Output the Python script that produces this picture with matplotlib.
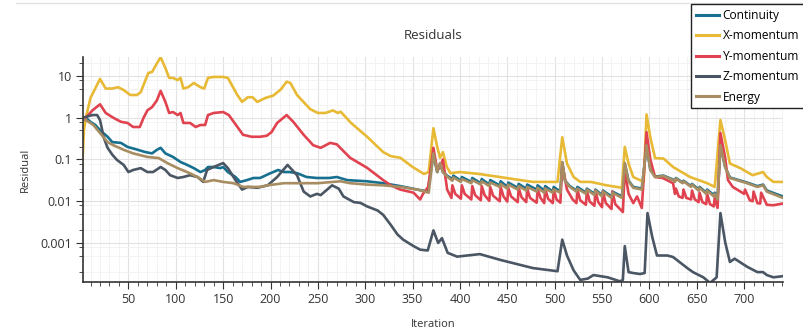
import matplotlib
matplotlib.use('Agg')
import matplotlib.pyplot as plt
from matplotlib.ticker import LogLocator, MultipleLocator, NullFormatter, FixedFormatter, FixedLocator
from matplotlib.lines import Line2D

plt.rcParams['font.family'] = ['Open Sans', 'DejaVu Sans']

# (iteration, residual)
continuity = [(1, 1.0), (5, 1.0), (10, 0.79), (15, 0.67), (20, 0.5), (28, 0.35), (33, 0.26),
              (42, 0.25), (49, 0.2), (60, 0.17), (68, 0.15), (75, 0.14), (80, 0.17), (84, 0.19),
              (89, 0.14), (97, 0.115), (105, 0.087), (112, 0.074), (119, 0.062), (126, 0.05),
              (131, 0.056), (134, 0.066), (140, 0.066), (147, 0.062), (150, 0.066), (155, 0.05),
              (163, 0.038), (168, 0.029), (175, 0.032), (182, 0.036), (189, 0.036), (200, 0.047),
              (208, 0.056), (214, 0.05), (220, 0.05), (228, 0.047), (238, 0.038), (249, 0.036),
              (262, 0.036), (270, 0.038), (281, 0.032), (302, 0.03), (319, 0.027), (337, 0.023),
              (355, 0.019), (366, 0.017), (372, 0.13), (376, 0.05), (379, 0.08), (382, 0.05),
              (387, 0.04), (392, 0.034), (393, 0.041), (401, 0.031), (402, 0.038), (412, 0.029),
              (413, 0.036), (422, 0.027), (423, 0.034), (431, 0.025), (432, 0.032), (442, 0.024),
              (443, 0.03), (450, 0.022), (451, 0.028), (461, 0.021), (462, 0.026), (470, 0.02),
              (471, 0.025), (481, 0.019), (482, 0.024), (489, 0.018), (490, 0.023), (498, 0.017),
              (499, 0.022), (506, 0.017), (508, 0.085), (511, 0.031), (516, 0.023), (523, 0.018),
              (524, 0.022), (533, 0.016), (534, 0.02), (542, 0.015), (543, 0.019), (550, 0.014),
              (551, 0.018), (560, 0.013), (561, 0.017), (571, 0.013), (574, 0.08), (578, 0.031),
              (583, 0.022), (592, 0.02), (597, 0.21), (601, 0.057), (606, 0.039), (615, 0.041),
              (625, 0.033), (627, 0.03), (628, 0.036), (635, 0.028), (636, 0.031), (644, 0.023),
              (645, 0.026), (652, 0.019), (653, 0.022), (660, 0.016), (661, 0.019), (668, 0.014),
              (669, 0.016), (672, 0.012), (675, 0.21), (680, 0.066), (685, 0.037), (703, 0.028),
              (714, 0.023), (720, 0.025), (724, 0.018), (741, 0.013)]

x_momentum = [(1, 0.05), (3, 0.5), (5, 1.0), (10, 3.0), (20, 8.5), (26, 5.0), (33, 5.0),
              (39, 5.4), (45, 4.6), (52, 3.5), (59, 3.5), (63, 4.1), (68, 8.0), (71, 11.8),
              (75, 12.5), (80, 20.0), (84, 28.0), (89, 15.5), (93, 9.0), (97, 9.0), (102, 8.0),
              (105, 9.0), (108, 5.0), (113, 5.4), (119, 6.8), (126, 5.4), (130, 5.0), (134, 9.0),
              (140, 9.5), (150, 9.5), (155, 9.0), (165, 3.5), (170, 2.4), (176, 3.1), (181, 3.1),
              (186, 2.4), (195, 3.0), (203, 3.4), (211, 4.8), (217, 7.3), (221, 6.8), (228, 3.5),
              (242, 1.6), (250, 1.3), (258, 1.3), (266, 1.5), (271, 1.3), (274, 1.4), (285, 0.75),
              (302, 0.35), (319, 0.15), (327, 0.12), (337, 0.11), (350, 0.066), (362, 0.045),
              (367, 0.05), (372, 0.56), (376, 0.2), (379, 0.11), (382, 0.15), (386, 0.067),
              (390, 0.047), (400, 0.05), (420, 0.045), (442, 0.038), (460, 0.033), (477, 0.029),
              (503, 0.029), (508, 0.34), (513, 0.08), (520, 0.038), (527, 0.029), (538, 0.029),
              (555, 0.024), (571, 0.021), (574, 0.2), (578, 0.08), (583, 0.038), (590, 0.032),
              (594, 0.029), (597, 1.2), (601, 0.34), (606, 0.108), (615, 0.105), (625, 0.066),
              (643, 0.038), (661, 0.027), (669, 0.022), (675, 0.88), (680, 0.29), (685, 0.08),
              (696, 0.062), (709, 0.042), (720, 0.05), (724, 0.038), (731, 0.029), (741, 0.029)]

y_momentum = [(1, 0.95), (5, 1.0), (12, 1.5), (20, 2.1), (26, 1.3), (34, 1.0), (42, 0.8),
              (49, 0.75), (55, 0.6), (62, 0.6), (66, 1.0), (70, 1.5), (75, 1.8), (80, 2.6),
              (84, 4.4), (89, 2.4), (93, 1.3), (97, 1.37), (102, 1.16), (105, 1.3), (108, 0.75),
              (115, 0.75), (121, 0.6), (126, 0.67), (131, 0.67), (134, 1.16), (140, 1.3),
              (150, 1.37), (156, 1.16), (165, 0.6), (171, 0.39), (180, 0.35), (189, 0.35),
              (196, 0.37), (201, 0.45), (207, 0.75), (217, 1.16), (224, 0.8), (235, 0.39),
              (245, 0.22), (253, 0.19), (263, 0.25), (270, 0.23), (284, 0.11), (302, 0.063),
              (319, 0.032), (327, 0.024), (337, 0.019), (351, 0.016), (358, 0.011), (361, 0.015),
              (366.5, 0.022), (372, 0.19), (376, 0.056), (379, 0.065), (382, 0.1), (386.5, 0.019),
              (391, 0.012), (392, 0.024), (395, 0.015), (401, 0.0115), (402, 0.024), (405, 0.015),
              (412, 0.011), (413, 0.023), (416, 0.014), (422, 0.0105), (423, 0.023), (426, 0.014),
              (431, 0.0102), (432, 0.022), (435, 0.0135), (442, 0.01), (443, 0.022), (446, 0.013),
              (450, 0.0098), (451, 0.021), (454, 0.013), (461, 0.0095), (462, 0.021), (465, 0.0125),
              (470, 0.0095), (471, 0.02), (474, 0.012), (481, 0.0092), (482, 0.02), (485, 0.012),
              (489, 0.009), (490, 0.02), (493, 0.0115), (498, 0.009), (499, 0.019), (502, 0.011),
              (506, 0.0092), (508, 0.08), (513, 0.019), (519, 0.011), (523, 0.009), (524, 0.019),
              (527, 0.0105), (533, 0.0082), (534, 0.018), (537, 0.0098), (542, 0.0078),
              (543, 0.018), (546, 0.0095), (550, 0.0072), (551, 0.017), (554, 0.009),
              (560, 0.0065), (561, 0.017), (564, 0.0085), (572, 0.0055), (574, 0.056),
              (578, 0.015), (583, 0.009), (587, 0.013), (592, 0.0069), (597, 0.45), (601, 0.1),
              (606, 0.038), (614, 0.036), (625, 0.027), (627, 0.015), (628, 0.02), (631, 0.013),
              (635, 0.012), (636, 0.019), (639, 0.012), (644, 0.011), (645, 0.018), (648, 0.011),
              (652, 0.0095), (653, 0.016), (656, 0.0095), (660, 0.0085), (661, 0.015),
              (664, 0.0085), (668, 0.0075), (669, 0.012), (672, 0.0069), (675, 0.43), (680, 0.11),
              (683, 0.032), (688, 0.022), (696, 0.017), (700, 0.015), (701, 0.019), (706, 0.0105),
              (709, 0.01), (710, 0.017), (714, 0.009), (717, 0.0088), (718, 0.016), (724, 0.0082),
              (731, 0.008), (741, 0.0088)]

z_momentum = [(1, 0.95), (2, 1.0), (12, 1.16), (17, 1.16), (20, 0.88), (24, 0.33), (28, 0.19),
              (33, 0.13), (38, 0.097), (45, 0.074), (50, 0.05), (55, 0.056), (63, 0.062),
              (70, 0.05), (76, 0.05), (84, 0.066), (89, 0.056), (94, 0.042), (102, 0.036),
              (108, 0.038), (115, 0.042), (123, 0.038), (129, 0.029), (133, 0.056), (140, 0.066),
              (150, 0.082), (155, 0.062), (163, 0.032), (170, 0.019), (176, 0.022), (186, 0.021),
              (197, 0.024), (207, 0.038), (218, 0.074), (228, 0.042), (235, 0.017), (242, 0.013),
              (249, 0.015), (253, 0.014), (265, 0.024), (272, 0.02), (277, 0.013), (288, 0.0095),
              (295, 0.0091), (302, 0.0075), (313, 0.006), (319, 0.0047), (327, 0.0027),
              (334, 0.0016), (340, 0.0012), (351, 0.00084), (358, 0.00069), (366, 0.00066),
              (372, 0.002), (377, 0.001), (381, 0.0013), (387, 0.00058), (397, 0.00047),
              (421, 0.00054), (443, 0.00039), (477, 0.00025), (503, 0.00021), (508, 0.0012),
              (513, 0.0005), (520, 0.00022), (527, 0.00013), (535, 0.00014), (541, 0.00017),
              (556, 0.00015), (569, 0.00012), (572, 0.00013), (574, 0.00084), (578, 0.0002),
              (583, 0.00019), (590, 0.00018), (595, 0.00019), (598, 0.0052), (603, 0.0014),
              (608, 0.0005), (619, 0.0005), (625, 0.00046), (640, 0.00025), (646, 0.0002),
              (657, 0.00015), (664, 0.00011), (671, 0.00015), (675, 0.0052), (680, 0.00105),
              (685, 0.00035), (690, 0.00042), (703, 0.00027), (714, 0.0002), (720, 0.0002),
              (724, 0.00017), (731, 0.00015), (741, 0.00016)]

energy = [(1, 0.9), (5, 0.88), (13, 0.67), (20, 0.43), (28, 0.26), (34, 0.22), (45, 0.17),
          (55, 0.14), (70, 0.115), (82, 0.108), (91, 0.082), (102, 0.062), (112, 0.05),
          (123, 0.038), (131, 0.029), (140, 0.032), (150, 0.029), (161, 0.027), (171, 0.022),
          (189, 0.022), (197, 0.024), (214, 0.027), (232, 0.027), (250, 0.027), (266, 0.029),
          (274, 0.03), (284, 0.027), (302, 0.025), (319, 0.024), (337, 0.022), (355, 0.019),
          (367, 0.016), (372, 0.14), (376, 0.05), (379, 0.082), (382, 0.05), (387, 0.038),
          (392, 0.031), (393, 0.037), (401, 0.029), (402, 0.034), (412, 0.027), (413, 0.032),
          (422, 0.025), (423, 0.03), (431, 0.023), (432, 0.028), (442, 0.022), (443, 0.026),
          (450, 0.02), (451, 0.025), (461, 0.019), (462, 0.023), (470, 0.018), (471, 0.022),
          (481, 0.017), (482, 0.021), (489, 0.016), (490, 0.02), (498, 0.016), (499, 0.019),
          (506, 0.016), (508, 0.087), (511, 0.03), (516, 0.022), (523, 0.017), (524, 0.02),
          (533, 0.015), (534, 0.019), (542, 0.014), (543, 0.018), (550, 0.013), (551, 0.017),
          (560, 0.012), (561, 0.016), (571, 0.012), (574, 0.082), (578, 0.03), (583, 0.021),
          (592, 0.019), (597, 0.22), (601, 0.056), (606, 0.038), (615, 0.04), (625, 0.032),
          (627, 0.029), (628, 0.035), (635, 0.027), (636, 0.03), (644, 0.022), (645, 0.025),
          (652, 0.018), (653, 0.021), (660, 0.015), (661, 0.018), (668, 0.013), (669, 0.015),
          (672, 0.011), (675, 0.22), (680, 0.066), (685, 0.036), (703, 0.027), (714, 0.022),
          (720, 0.024), (724, 0.017), (741, 0.012)]

names = ['Continuity', 'X-momentum', 'Y-momentum', 'Z-momentum', 'Energy']
colors = ['#17708f', '#e7b934', '#e0434f', '#4a5664', '#a88d62']

fig = plt.figure(figsize=(8.04, 3.29), dpi=100)
ax = fig.add_axes([0.1032, 0.1429, 0.8706, 0.6838])

for data, nm, c in zip([continuity, x_momentum, y_momentum, z_momentum, energy], names, colors):
    xs = [p[0] for p in data]
    ys = [p[1] for p in data]
    ax.plot(xs, ys, color=c, lw=1.9, label=nm, solid_joinstyle='round')

ax.set_yscale('log')
ax.set_xlim(2, 741)
ax.set_ylim(1.16e-4, 28.5)

ax.xaxis.set_major_locator(MultipleLocator(50))
ax.xaxis.set_minor_locator(MultipleLocator(10))
ax.yaxis.set_major_locator(FixedLocator([0.001, 0.01, 0.1, 1, 10]))
ax.yaxis.set_major_formatter(FixedFormatter(['0.001', '0.01', '0.1', '1', '10']))
ax.yaxis.set_minor_locator(LogLocator(base=10, subs=(2, 5, 8)))
ax.yaxis.set_minor_formatter(NullFormatter())

ax.grid(True, which='major', color='#e2e2e2', lw=0.8)
ax.grid(True, which='minor', color='#f1f1f1', lw=0.6)
ax.set_axisbelow(True)
for s in ['top', 'right']:
    ax.spines[s].set_visible(False)
for s in ['left', 'bottom']:
    ax.spines[s].set_color('#333333')
    ax.spines[s].set_linewidth(1.2)
ax.tick_params(which='major', length=5, color='#333333', labelsize=9, labelcolor='#333333', pad=3)
ax.tick_params(which='minor', length=3, color='#333333')

ax.set_title('Residuals', fontsize=9.5, color='#333333', pad=13)
ax.set_xlabel('Iteration', fontsize=8, color='#333333', labelpad=9)
ax.set_ylabel('Residual', fontsize=8, color='#333333', labelpad=7)

leg = fig.legend(loc='upper right', bbox_to_anchor=(1.0, 0.987), fontsize=8.6,
                 frameon=True, fancybox=False, edgecolor='#222222', framealpha=1,
                 handlelength=1.9, handletextpad=0.35, borderpad=0.4, labelspacing=0.62,
                 borderaxespad=0.0)
leg.get_frame().set_linewidth(1.0)
for h in leg.get_lines():
    h.set_linewidth(2.2)

fig.add_artist(Line2D([0.02, 1.0], [0.99, 0.99], color='#e3e3e3', lw=1.0))

fig.savefig('out.png', dpi=100)
